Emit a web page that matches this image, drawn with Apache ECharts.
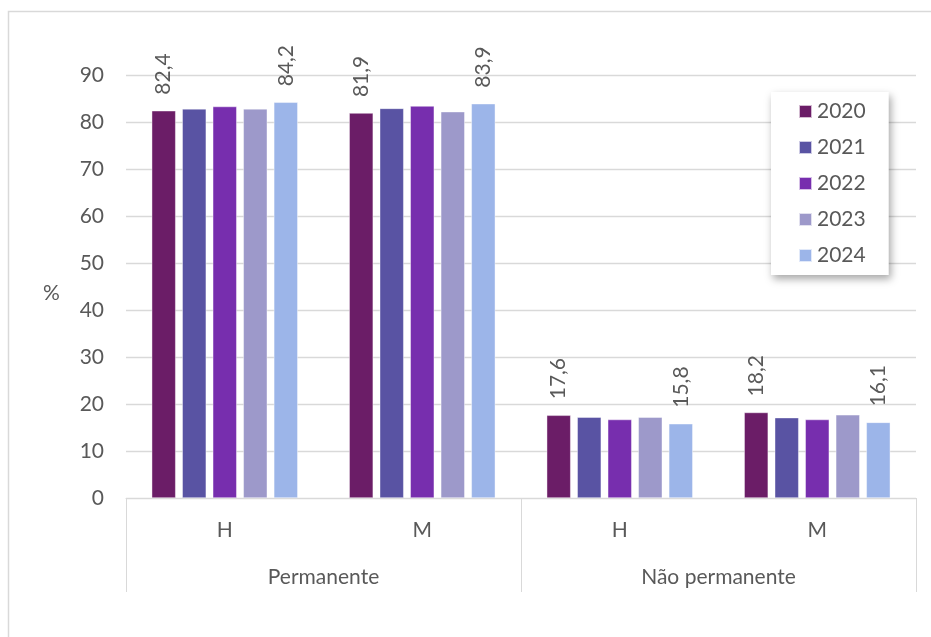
<!DOCTYPE html>
<html>
<head>
<meta charset="utf-8">
<script src="https://cdn.jsdelivr.net/npm/echarts@6/dist/echarts.min.js"></script>
<style>
  html, body { margin: 0; padding: 0; background: #ffffff; }
  #chart { width: 931px; height: 637px; }
</style>
</head>
<body>
<div id="chart"></div>
<script>
// Sub-categories (sex) and their contract-type groups
const sexCategories = ['H', 'M', 'H', 'M'];
const contractGroups = ['Permanente', 'Não permanente'];
const years = ['2020', '2021', '2022', '2023', '2024'];

// Share of employees (%) per year, in order: Permanente H, Permanente M, Não permanente H, Não permanente M
const values2020 = [82.4, 81.9, 17.6, 18.2];
const values2021 = [82.8, 82.9, 17.2, 17.1];
const values2022 = [83.3, 83.4, 16.7, 16.7];
const values2023 = [82.8, 82.2, 17.2, 17.7];
const values2024 = [84.2, 83.9, 15.8, 16.1];

const yTicks = [0, 10, 20, 30, 40, 50, 60, 70, 80, 90];

const seriesValues = [values2020, values2021, values2022, values2023, values2024];
const colors = ['#6B1D67', '#5953A3', '#772EAE', '#9D99CA', '#9CB5E9'];

const FONT = 'Lato, "Open Sans", sans-serif';
const FS = 21;
const TEXT = '#595959';
const LINE = '#d9d9d9';

const chart = echarts.init(document.getElementById('chart'), null, { renderer: 'canvas' });

const series = years.map((y, i) => {
  const labelled = (i === 0 || i === years.length - 1);
  return {
    name: y,
    type: 'bar',
    xAxisIndex: 0,
    data: seriesValues[i],
    barGap: '27%',
    barCategoryGap: '26%',
    itemStyle: { color: colors[i], borderColor: 'rgba(255,255,255,0.7)', borderWidth: 0.6 },
    label: {
      show: labelled,
      position: 'top',
      rotate: 90,
      align: 'left',
      verticalAlign: 'middle',
      distance: 16,
      color: TEXT,
      fontFamily: FONT,
      fontSize: FS,
      formatter: p => p.value.toFixed(1).replace('.', ',')
    }
  };
});

chart.setOption({
  animation: false,
  backgroundColor: '#ffffff',
  textStyle: { fontFamily: FONT },
  grid: { left: 126, right: 15, top: 75, bottom: 139, containLabel: false },
  legend: {
    data: years,
    orient: 'vertical',
    left: 771,
    top: 92,
    padding: [9, 23, 9, 27],
    itemWidth: 13,
    itemHeight: 13,
    itemGap: 15,
    icon: 'rect',
    backgroundColor: '#ffffff',
    shadowColor: 'rgba(0,0,0,0.35)',
    shadowBlur: 8,
    shadowOffsetX: 2,
    shadowOffsetY: 4,
    textStyle: { color: TEXT, fontFamily: FONT, fontSize: FS }
  },
  xAxis: [
    {
      type: 'category',
      data: sexCategories,
      position: 'bottom',
      axisLine: { show: true, lineStyle: { color: LINE } },
      axisTick: { show: false },
      axisLabel: { color: TEXT, fontFamily: FONT, fontSize: FS, margin: 22 }
    },
    {
      type: 'category',
      data: contractGroups,
      position: 'bottom',
      axisLine: { show: false },
      axisTick: { show: true, length: 94, alignWithLabel: false, lineStyle: { color: LINE } },
      axisLabel: { color: TEXT, fontFamily: FONT, fontSize: FS, margin: 69 },
      splitLine: { show: false }
    }
  ],
  yAxis: {
    type: 'value',
    min: yTicks[0],
    max: yTicks[yTicks.length - 1],
    interval: yTicks[1] - yTicks[0],
    axisLine: { show: false },
    axisTick: { show: false },
    axisLabel: { color: TEXT, fontFamily: FONT, fontSize: FS, margin: 22 },
    splitLine: { lineStyle: { color: LINE, width: 1.3 } }
  },
  graphic: [
    {
      type: 'rect',
      shape: { x: 8.5, y: 11.5, width: 940, height: 640 },
      style: { fill: 'none', stroke: LINE, lineWidth: 1.5 },
      silent: true
    },
    {
      type: 'text',
      left: 43,
      top: 283,
      style: { text: '%', fill: TEXT, font: FS + 'px ' + FONT }
    }
  ],
  series: series
});
</script>
</body>
</html>
